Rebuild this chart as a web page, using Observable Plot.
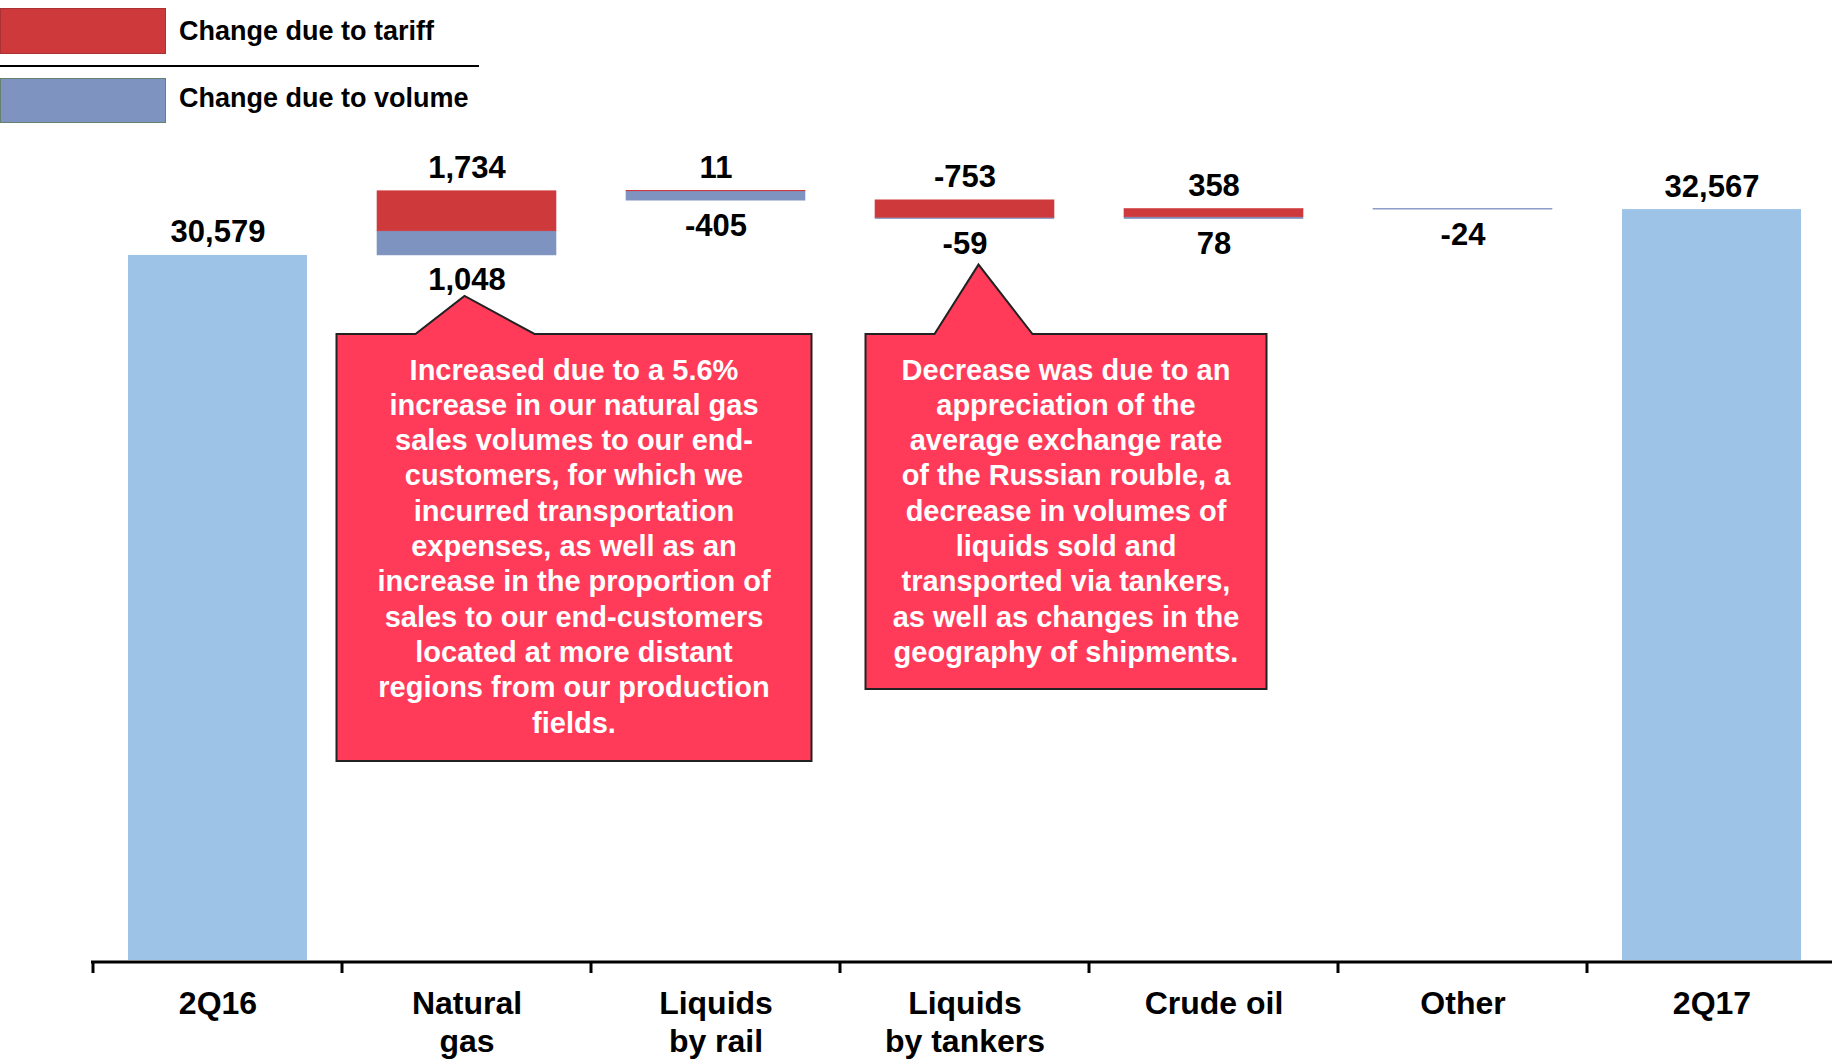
<!DOCTYPE html>
<html>
<head>
<meta charset="utf-8">
<script src="https://cdn.jsdelivr.net/npm/d3@7"></script>
<script src="https://cdn.jsdelivr.net/npm/@observablehq/plot@0.6"></script>
<style>
  html, body { margin: 0; padding: 0; background: #fff; }
  body { font-family: "Liberation Sans", Arial, sans-serif; }
  #wrap { position: relative; width: 1832px; height: 1059px; overflow: hidden; }
  #legend { position: relative; width: 1832px; height: 130px; }
  .lg-box { position: absolute; left: 0; width: 166px; box-sizing: border-box; }
  .lg-text { position: absolute; left: 179px; font-weight: bold; font-size: 27px; color: #000; white-space: nowrap; }
  #chart svg { display: block; }
</style>
</head>
<body>
<div id="wrap">
  <div id="legend"></div>
  <div id="chart"></div>
</div>
<script>
// ---------------- data ----------------
const categories = ["2Q16", "Natural gas", "Liquids by rail", "Liquids by tankers", "Crude oil", "Other", "2Q17"];
const categoryLabels = ["2Q16", "Natural\ngas", "Liquids\nby rail", "Liquids\nby tankers", "Crude oil", "Other", "2Q17"];
const totalValues = [30579, null, null, null, null, null, 32567];
const tariffChange = [null, 1734, 11, -753, 358, null, null];
const volumeChange = [null, 1048, -405, -59, 78, -24, null];

const legendLabels = ["Change due to tariff", "Change due to volume"];

const calloutCategories = ["Natural gas", "Liquids by tankers"];
const calloutTexts = [
  ["Increased due to a 5.6%", "increase in our natural gas", "sales volumes to our end-", "customers, for which we",
   "incurred transportation", "expenses, as well as an", "increase in the proportion of", "sales to our end-customers",
   "located at more distant", "regions from our production", "fields."],
  ["Decrease was due to an", "appreciation of the", "average exchange rate", "of the Russian rouble, a",
   "decrease in volumes of", "liquids sold and", "transported via tankers,", "as well as changes in the",
   "geography of shipments."]
];

// ---------------- styles ----------------
const COLORS = { total: "#9DC3E6", tariff: "#CE3A3C", volume: "#7F93C0" };
const FONT = "'Liberation Sans', Arial, sans-serif";

// ---------------- legend ----------------
const legend = document.getElementById("legend");
legend.innerHTML = `
  <div class="lg-box" style="top:8px;height:46px;background:${COLORS.tariff};border:1px solid #A83234;"></div>
  <div class="lg-text" style="top:8px;line-height:46px;">${legendLabels[0]}</div>
  <div style="position:absolute;left:0;top:65px;width:479px;height:2px;background:#000;"></div>
  <div class="lg-box" style="top:78px;height:45px;background:${COLORS.volume};border:1px solid #66806F;"></div>
  <div class="lg-text" style="top:75px;line-height:46px;">${legendLabels[1]}</div>
`;

// ---------------- waterfall segments ----------------
const fmt = v => (v < 0 ? "-" : "") + d3.format(",")(Math.abs(v));
const segs = [], above = [], below = [];
const groupBottom = {};
let level = 0;
categories.forEach((c, i) => {
  if (totalValues[i] != null) {
    segs.push({ c, y1: 0, y2: totalValues[i], type: "total" });
    above.push({ c, y: totalValues[i], text: fmt(totalValues[i]) });
    level = totalValues[i];
    groupBottom[c] = totalValues[i];
    return;
  }
  const t = tariffChange[i], v = volumeChange[i];
  let up = level, down = level;
  for (const [type, val] of [["volume", v], ["tariff", t]]) {
    if (val != null && val > 0) { segs.push({ c, y1: up, y2: up + val, type }); up += val; }
  }
  for (const [type, val] of [["tariff", t], ["volume", v]]) {
    if (val != null && val < 0) { segs.push({ c, y1: down, y2: down + val, type }); down += val; }
  }
  if (t != null) above.push({ c, y: up, text: fmt(t) });
  if (v != null) below.push({ c, y: down, text: fmt(v) });
  groupBottom[c] = down;
  level += (t || 0) + (v || 0);
});
// draw tariff segments last so thin red slivers stay visible
const order = { total: 0, volume: 1, tariff: 2 };
segs.sort((a, b) => order[a.type] - order[b.type]);

// ---------------- custom marks ----------------
const W = 1832, H = 929;

function axisMark(index, scales, values, dims) {
  const x = scales.x, y = scales.y;
  const bw = x.bandwidth(), step = x.step();
  const y0 = y(0) + 2;
  const g = d3.create("svg:g");
  g.append("line").attr("x1", x.range()[0]).attr("x2", dims.width)
    .attr("y1", y0).attr("y2", y0).attr("stroke", "#000").attr("stroke-width", 3);
  const bounds = categories.map(c => x(c) - (step - bw) / 2);
  bounds.push(bounds[bounds.length - 1] + step);
  for (const b of bounds) {
    g.append("line").attr("x1", b).attr("x2", b).attr("y1", y0).attr("y2", y0 + 11)
      .attr("stroke", "#000").attr("stroke-width", 3);
  }
  return g.node();
}

function calloutMark(index, scales, values, dims) {
  const x = scales.x, y = scales.y;
  const bw = x.bandwidth();
  const g = d3.create("svg:g");
  const geom = [
    { dx: -2, dy: 41, left: -128, right: 347, bl: -49, br: 70, height: 427 },
    { dx: 14, dy: 46, left: -113, right: 288, bl: -44, br: 54, height: 355 }
  ];
  const top = y(35000) + 181;
  calloutCategories.forEach((c, k) => {
    const G = geom[k];
    const ax = x(c) + bw / 2 + G.dx;
    const ay = y(groupBottom[c]) + G.dy;
    const L = ax + G.left, R = ax + G.right, B = top + G.height;
    const path = `M${L},${top}L${ax + G.bl},${top}L${ax},${ay}L${ax + G.br},${top}L${R},${top}L${R},${B}L${L},${B}Z`;
    g.append("path").attr("d", path).attr("fill", "#FF3B59").attr("stroke", "#222").attr("stroke-width", 2);
    const cx = (L + R) / 2;
    const t = g.append("text").attr("text-anchor", "middle").attr("fill", "#fff")
      .attr("font-family", FONT).attr("font-weight", "bold").attr("font-size", 29);
    calloutTexts[k].forEach((line, j) => {
      t.append("tspan").attr("x", cx).attr("y", top + 45.5 + j * 35.3).text(line);
    });
  });
  return g.node();
}

// ---------------- plot ----------------
const chart = Plot.plot({
  width: W,
  height: H,
  marginTop: 23,
  marginBottom: 99,
  marginLeft: 91,
  marginRight: 0,
  x: { domain: categories, range: [91, 1838], paddingInner: 0.283, paddingOuter: 0.1415, axis: null },
  y: { domain: [0, 35000], axis: null },
  color: { type: "identity" },
  style: { fontFamily: FONT, overflow: "visible", background: "#fff" },
  marks: [
    Plot.barY(segs, {
      x: "c", y1: "y1", y2: "y2",
      fill: d => COLORS[d.type],
      stroke: d => d.type === "total" ? "none" : COLORS[d.type],
      strokeWidth: 0.6
    }),
    axisMark,
    Plot.text(above, { x: "c", y: "y", text: "text", dy: -23, fontSize: 31, fontWeight: "bold", fill: "#000" }),
    Plot.text(below, { x: "c", y: "y", text: "text", dy: 25, fontSize: 31, fontWeight: "bold", fill: "#000" }),
    Plot.text(categories, {
      x: d => d, y: () => 0,
      text: (d, i) => categoryLabels[i],
      lineAnchor: "top", dy: 27, lineHeight: 1.18,
      fontSize: 32, fontWeight: "bold", fill: "#000"
    }),
    calloutMark
  ]
});
document.getElementById("chart").appendChild(chart);
</script>
</body>
</html>
